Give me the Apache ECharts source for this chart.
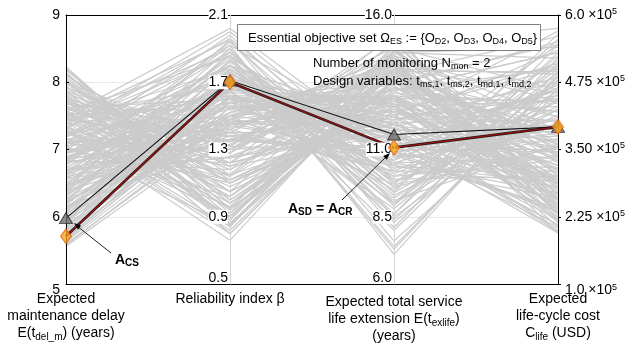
<!DOCTYPE html>
<html>
<head>
<meta charset="utf-8">
<script src="https://cdn.jsdelivr.net/npm/echarts@6/dist/echarts.min.js"></script>
<style>
  html, body { margin: 0; padding: 0; background: #fff; }
  #main { width: 628px; height: 349px; }
</style>
</head>
<body>
<div id="main"></div>
<script>
// Pareto solutions, one entry per solution in each array
const delay = [
  5.56, 5.60, 5.63, 5.66, 5.70, 5.74, 5.78, 5.82, 5.86, 5.90,
  5.94, 5.98, 6.02, 6.05, 6.08, 6.12, 6.15, 6.18, 6.21, 6.25,
  6.28, 6.30, 6.33, 6.36, 6.40, 6.42, 6.45, 6.48, 6.52, 6.55,
  6.58, 6.61, 6.64, 6.67, 6.70, 6.73, 6.76, 6.79, 6.82, 6.85,
  6.88, 6.90, 6.93, 6.95, 6.97, 7.00, 6.44, 6.60, 6.83, 6.99,
  7.27, 7.50, 7.05, 7.08, 7.11, 7.14, 7.17, 7.20, 7.23, 7.26,
  7.29, 7.32, 7.35, 7.38, 7.41, 7.44, 7.47, 7.49, 7.52, 7.54,
  7.56, 7.58, 7.10, 7.22, 7.36, 7.46, 7.53, 7.03, 7.31, 7.43,
  8.23, 8.20, 8.15, 8.10, 8.05, 8.00, 7.95, 7.90, 7.86, 7.82,
  7.78, 7.74, 7.70, 7.66, 7.62, 8.18, 8.08, 7.92, 7.80, 7.68,
  6.85, 7.15, 6.55, 7.40, 6.20, 7.70, 6.95, 7.60, 5.88, 8.12,
  7.18, 6.65, 7.45, 5.75, 6.38, 7.00, 7.62, 6.10, 5.95, 7.85,
  5.65, 5.80, 5.92, 6.00, 6.07, 6.14, 6.22, 6.26, 6.34, 6.40,
  6.47, 6.50, 6.57, 6.63, 6.68, 6.72, 6.78, 6.84, 6.89, 6.94,
  7.02, 7.07, 7.12, 7.16, 7.21, 7.25, 7.30, 7.34, 7.39, 7.42,
  7.48, 7.51, 7.57, 7.64, 7.67, 7.72, 7.76, 7.83, 7.88, 7.93,
  7.98, 8.03, 8.13, 8.21, 5.58, 5.68, 5.84, 6.03, 6.16, 6.31,
  6.46, 6.69, 6.86, 7.06, 7.19, 7.33, 7.44, 7.55, 7.75, 8.00
];
const reliability = [
  1.42, 1.45, 1.50, 1.62, 1.74, 1.68, 1.55, 1.77, 1.48, 1.66,
  1.72, 1.58, 1.80, 1.52, 1.64, 1.75, 1.32, 1.70, 1.60, 1.83,
  1.47, 1.78, 1.56, 1.86, 1.65, 1.90, 1.35, 1.72, 1.28, 1.95,
  1.50, 1.62, 1.40, 1.84, 1.25, 1.68, 1.92, 1.45, 1.33, 1.76,
  1.58, 1.22, 1.88, 1.54, 1.38, 1.80, 1.60, 1.30, 1.70, 1.46,
  0.76, 2.02, 0.85, 1.98, 1.10, 1.65, 0.92, 1.92, 1.20, 1.50,
  0.80, 2.00, 1.05, 1.86, 0.88, 1.35, 1.95, 0.98, 1.55, 1.15,
  1.85, 0.95, 1.42, 1.72, 1.62, 1.62, 1.08, 1.80, 0.82, 1.90,
  0.92, 0.98, 0.85, 1.15, 0.98, 1.32, 0.88, 1.12, 1.38, 0.80,
  1.25, 1.02, 1.40, 0.90, 1.18, 1.00, 0.95, 1.30, 0.86, 1.35,
  1.40, 1.30, 1.48, 1.22, 1.58, 1.05, 1.68, 1.45, 1.52, 0.95,
  1.88, 1.80, 0.90, 1.50, 1.36, 1.12, 1.60, 1.70, 1.46, 1.20,
  1.55, 1.62, 1.78, 1.45, 1.69, 1.50, 1.88, 1.38, 1.73, 1.60,
  1.43, 1.82, 1.26, 1.70, 1.52, 1.36, 1.94, 1.18, 1.64, 1.48,
  1.02, 1.75, 1.28, 0.96, 1.58, 1.12, 1.96, 0.84, 1.40, 1.78,
  1.25, 1.68, 0.90, 1.22, 1.48, 0.94, 1.30, 1.10, 0.84, 1.22,
  1.05, 0.90, 1.00, 0.86, 1.48, 1.58, 1.67, 1.61, 1.44, 1.66,
  1.86, 1.32, 1.56, 1.36, 1.80, 1.14, 1.60, 1.38, 1.14, 1.10
];
const extension = [
  13.8, 12.9, 14.2, 10.5, 9.2, 11.8, 13.2, 8.4, 14.4, 12.2,
  10.1, 11.4, 9.6, 14.1, 12.6, 8.0, 15.2, 10.8, 13.5, 8.9,
  11.9, 9.9, 12.4, 7.3, 12.9, 7.6, 13.9, 11.2, 14.5, 8.1,
  12.8, 11.4, 14.8, 9.4, 13.3, 11.6, 7.1, 12.0, 14.3, 10.0,
  13.0, 15.3, 8.6, 11.2, 12.5, 9.1, 12.1, 11.5, 12.6, 10.6,
  14.2, 10.9, 13.6, 9.8, 12.7, 8.6, 14.7, 11.4, 13.1, 9.7,
  13.9, 10.4, 12.4, 7.4, 14.4, 11.1, 9.0, 13.4, 12.0, 15.0,
  10.7, 13.1, 10.2, 12.4, 8.8, 12.9, 12.4, 11.9, 13.9, 8.3,
  13.5, 13.0, 14.5, 12.0, 13.0, 10.8, 14.9, 12.8, 10.4, 14.0,
  11.8, 14.0, 10.2, 13.8, 13.3, 12.9, 13.2, 14.2, 13.6, 12.7,
  14.6, 14.9, 13.8, 14.0, 13.4, 14.6, 12.2, 13.2, 13.9, 14.8,
  9.4, 10.6, 13.5, 11.6, 11.0, 12.0, 10.9, 9.0, 12.6, 11.6,
  11.0, 12.0, 9.8, 12.4, 10.3, 13.6, 8.5, 12.3, 11.5, 9.5,
  14.0, 10.8, 13.0, 9.0, 11.8, 10.9, 9.7, 13.7, 10.4, 12.8,
  13.3, 11.0, 14.1, 14.0, 10.0, 12.6, 10.2, 14.6, 11.7, 9.3,
  12.2, 11.3, 13.9, 12.1, 10.5, 13.2, 13.6, 12.3, 14.7, 11.9,
  12.6, 14.3, 13.3, 14.0, 11.2, 12.9, 10.9, 11.5, 10.9, 12.7,
  9.6, 14.4, 11.8, 12.9, 10.5, 13.5, 12.7, 10.8, 14.5, 12.5
];
// life-cycle cost in units of 10^5 USD
const cost = [
  2.60, 3.10, 2.35, 4.10, 4.60, 3.30, 2.90, 4.85, 2.20, 3.65,
  4.30, 2.10, 5.05, 3.40, 2.75, 4.95, 2.55, 2.40, 3.85, 5.30,
  4.45, 3.00, 5.10, 4.85, 2.40, 4.55, 2.85, 3.75, 2.30, 5.20,
  3.20, 1.95, 2.65, 4.40, 3.55, 2.50, 4.90, 5.35, 2.15, 3.95,
  4.20, 2.45, 5.45, 2.05, 3.35, 3.60, 4.75, 2.95, 2.70, 4.65,
  2.50, 3.80, 3.05, 4.25, 2.20, 5.10, 2.80, 3.45, 4.00, 5.55,
  1.94, 2.60, 3.90, 4.80, 3.25, 4.50, 5.25, 2.35, 2.00, 2.75,
  3.70, 4.35, 3.10, 2.90, 4.95, 2.25, 5.00, 3.55, 3.65, 4.60,
  2.70, 3.30, 2.40, 4.05, 2.15, 4.70, 3.00, 3.85, 5.15, 2.55,
  1.97, 3.50, 4.40, 2.95, 4.20, 3.60, 5.00, 2.30, 2.85, 3.15,
  5.40, 5.75, 5.60, 4.90, 5.50, 5.20, 5.70, 5.30, 4.95, 4.60,
  5.65, 5.45, 3.75, 2.95, 3.45, 2.65, 4.05, 4.75, 2.30, 2.10,
  3.50, 2.45, 4.00, 3.20, 3.70, 2.05, 4.45, 4.30, 2.20, 5.00,
  3.60, 3.15, 2.80, 4.25, 4.85, 2.35, 3.40, 4.10, 2.90, 2.55,
  3.40, 4.70, 2.45, 4.55, 3.30, 2.95, 2.90, 3.85, 3.95, 4.15,
  2.60, 4.60, 3.10, 4.50, 3.35, 5.30, 3.75, 2.45, 3.35, 3.05,
  4.40, 2.60, 3.90, 3.10, 3.85, 4.40, 2.80, 4.60, 2.95, 3.45,
  3.55, 4.40, 3.00, 5.05, 2.70, 5.45, 3.50, 2.35, 4.10, 2.85
];

// highlighted solutions
const solutionCS = [5.98, 1.71, 11.56, 3.92];
const solutionSD = [5.71, 1.70, 11.07, 3.92];

const axisMin = [5, 0.5, 6, 1];
const axisMax = [9, 2.1, 16, 6];
const axisStep = [1, 0.4, 2.5, 1.25];
const axisNames = [
  'Expected\nmaintenance delay\nE(t{sub|del_m}) (years)',
  'Reliability index β',
  'Expected total service\nlife extension E(t{sub|exlife})\n(years)',
  'Expected\nlife-cycle cost\nC{sub|life} (USD)'
];
const nameGaps = [7, 7, 10, 7];

const FONT = '"Liberation Sans", Arial, sans-serif';
const axisX = [66, 230, 394, 558];
const chart = echarts.init(document.getElementById('main'));

const rows = delay.map((d, i) => [d, reliability[i], extension[i], cost[i]]);

const near = (a, b) => Math.abs(a - b) < 1e-6;
const labelRich = {
  bg: { backgroundColor: '#fff', fontSize: 14, fontFamily: FONT, color: '#000', lineHeight: 16 },
  n: { fontSize: 14, fontFamily: FONT, color: '#000', lineHeight: 16 },
  up: { fontSize: 14, fontFamily: FONT, color: '#000', lineHeight: 16, padding: [0, 0, 12, 0] },
  lo: { fontSize: 14, fontFamily: FONT, color: '#000', lineHeight: 16, padding: [12, 0, 0, 0] },
  sup: { fontSize: 9, fontFamily: FONT, color: '#000', lineHeight: 9, verticalAlign: 'top' },
  losup: { fontSize: 9, fontFamily: FONT, color: '#000', lineHeight: 9, verticalAlign: 'top', padding: [7, 0, 0, 0] }
};

const formatters = [
  v => near(v, 5) ? '{lo|5}' : '{n|' + v + '}',
  v => near(v, 0.5) ? '{up|0.5}' : '{bg|' + v.toFixed(1) + '}',
  v => near(v, 6) ? '{up|6.0}' : (near(v, 13.5) ? '' : '{bg|' + v.toFixed(1) + '}'),
  v => {
    const t = (near(v, 6) || near(v, 1)) ? v.toFixed(1) : v.toFixed(2);
    return near(v, 1) ? '{lo|' + t + ' ×10}{losup|5}' : '{n|' + t + ' ×10}{sup|5}';
  }
];

const parallelAxis = axisMin.map((mn, i) => ({
  dim: i,
  min: mn,
  max: axisMax[i],
  interval: axisStep[i],
  name: axisNames[i],
  nameLocation: 'start',
  nameGap: nameGaps[i],
  nameMoveOverlap: false,
  nameTextStyle: {
    color: '#000', fontSize: 14, fontFamily: FONT, lineHeight: 17,
    rich: { sub: { fontSize: 10, fontFamily: FONT, color: '#000', lineHeight: 10, verticalAlign: 'bottom' } }
  },
  z: 5,
  axisLine: { lineStyle: { color: (i === 0 || i === 3) ? '#000' : '#d6d6d6', width: 1 } },
  axisTick: { show: i === 0 || i === 3, length: 3, inside: i === 3, lineStyle: { color: '#000' } },
  axisLabel: i === 3
    ? { margin: 7, formatter: formatters[i], rich: labelRich }
    : { margin: i === 0 ? -6 : -2, align: 'right', formatter: formatters[i], rich: labelRich }
}));

// small per-axis grids so the markers sit on the same scales as the parallel axes
const markerGrids = axisX.map(x => ({ left: x - 10, width: 20, top: 15, bottom: 65, show: false }));
const markerX = axisX.map((x, i) => ({ gridIndex: i + 1, type: 'value', min: -1, max: 1, show: false }));
const markerY = axisX.map((x, i) => ({ gridIndex: i + 1, type: 'value', min: axisMin[i], max: axisMax[i], show: false }));

const markerSeries = [];
axisX.forEach((x, i) => {
  markerSeries.push({
    type: 'scatter', xAxisIndex: i + 2, yAxisIndex: i + 1, z: 20, silent: true,
    symbol: 'triangle', symbolSize: [13, 11],
    itemStyle: { color: '#6f6f6f', borderColor: '#222', borderWidth: 1 },
    data: [[0, solutionCS[i]]]
  });
  markerSeries.push({
    type: 'scatter', xAxisIndex: i + 2, yAxisIndex: i + 1, z: 21, silent: true,
    symbol: 'diamond', symbolSize: [11, 15],
    itemStyle: { color: '#f7a51c', borderColor: '#e2560a', borderWidth: 1 },
    data: [[0, solutionSD[i]]]
  });
});

const sub = { fontSize: 9, fontFamily: FONT, fill: '#000', lineHeight: 9, verticalAlign: 'bottom' };
const bsub = { fontSize: 10, fontWeight: 'bold', fontFamily: FONT, fill: '#000', lineHeight: 10, verticalAlign: 'bottom' };

const option = {
  animation: false,
  backgroundColor: '#fff',
  parallel: { left: 66, right: 70, top: 15, bottom: 65, layout: 'horizontal' },
  parallelAxis: parallelAxis,
  grid: [{ left: 66, right: 70, top: 15, bottom: 65, show: false }].concat(markerGrids),
  xAxis: [
    { gridIndex: 0, type: 'value', min: 0, max: 1, position: 'bottom',
      axisLine: { lineStyle: { color: '#000' } }, axisTick: { show: false }, axisLabel: { show: false }, splitLine: { show: false } },
    { gridIndex: 0, type: 'value', min: 0, max: 1, position: 'top',
      axisLine: { lineStyle: { color: '#000' } }, axisTick: { show: false }, axisLabel: { show: false }, splitLine: { show: false } }
  ].concat(markerX),
  yAxis: [
    { gridIndex: 0, type: 'value', min: 0, max: 4, interval: 1,
      axisLine: { show: false }, axisTick: { show: false }, axisLabel: { show: false },
      splitLine: { lineStyle: { color: '#e8e8e8' } } }
  ].concat(markerY),
  series: [
    { type: 'parallel', silent: true, z: 2, data: rows,
      lineStyle: { color: '#cbcbcb', width: 1.2, opacity: 1 } },
    { type: 'parallel', silent: true, z: 3, data: [solutionSD],
      lineStyle: { color: '#1a1a1a', width: 2.6, opacity: 1 } },
    { type: 'parallel', silent: true, z: 3, data: [solutionCS],
      lineStyle: { color: '#111', width: 1.1, opacity: 1 } },
    { type: 'parallel', silent: true, z: 4, data: [solutionSD],
      lineStyle: { color: '#9e1010', width: 1.3, opacity: 1 } }
  ].concat(markerSeries),
  graphic: [
    { type: 'rect', z: 100, shape: { x: 237.5, y: 24.5, width: 303, height: 26 },
      style: { fill: '#fff', stroke: '#7f7f7f', lineWidth: 1 } },
    { type: 'text', z: 101, x: 248, y: 38,
      style: { text: 'Essential objective set Ω{sub|ES} := {O{sub|D2}, O{sub|D3}, O{sub|D4}, O{sub|D5}}',
        fill: '#000', fontSize: 13, fontFamily: FONT, verticalAlign: 'middle', lineHeight: 16, rich: { sub: sub } } },
    { type: 'text', z: 101, x: 313, y: 63,
      style: { text: 'Number of monitoring N{sub|mon} = 2',
        fill: '#000', fontSize: 13, fontFamily: FONT, verticalAlign: 'middle', lineHeight: 16, rich: { sub: sub } } },
    { type: 'text', z: 101, x: 313, y: 81,
      style: { text: 'Design variables: t{sub|ms,1}, t{sub|ms,2}, t{sub|md,1}, t{sub|md,2}',
        fill: '#000', fontSize: 13, fontFamily: FONT, verticalAlign: 'middle', lineHeight: 16, rich: { sub: sub } } },
    // A_CS annotation
    { type: 'line', z: 100, shape: { x1: 111, y1: 253, x2: 77, y2: 226 }, style: { stroke: '#222', lineWidth: 1 } },
    { type: 'polygon', z: 100, shape: { points: [[74, 223], [81, 225.5], [78, 229.4]] }, style: { fill: '#000' } },
    { type: 'text', z: 101, x: 115, y: 260,
      style: { text: 'A{s|CS}', fill: '#000', fontSize: 14, fontWeight: 'bold', fontFamily: FONT,
        verticalAlign: 'middle', lineHeight: 17, rich: { s: bsub } } },
    // A_SD = A_CR annotation
    { type: 'line', z: 100, shape: { x1: 342, y1: 200, x2: 387, y2: 156 }, style: { stroke: '#222', lineWidth: 1 } },
    { type: 'polygon', z: 100, shape: { points: [[390, 153], [386.8, 159.7], [383.2, 156.1]] }, style: { fill: '#000' } },
    { type: 'text', z: 101, x: 288, y: 209,
      style: { text: 'A{s|SD} = A{s|CR}', fill: '#000', fontSize: 14, fontWeight: 'bold', fontFamily: FONT,
        verticalAlign: 'middle', lineHeight: 17, rich: { s: bsub } } }
  ]
};

chart.setOption(option);
</script>
</body>
</html>
